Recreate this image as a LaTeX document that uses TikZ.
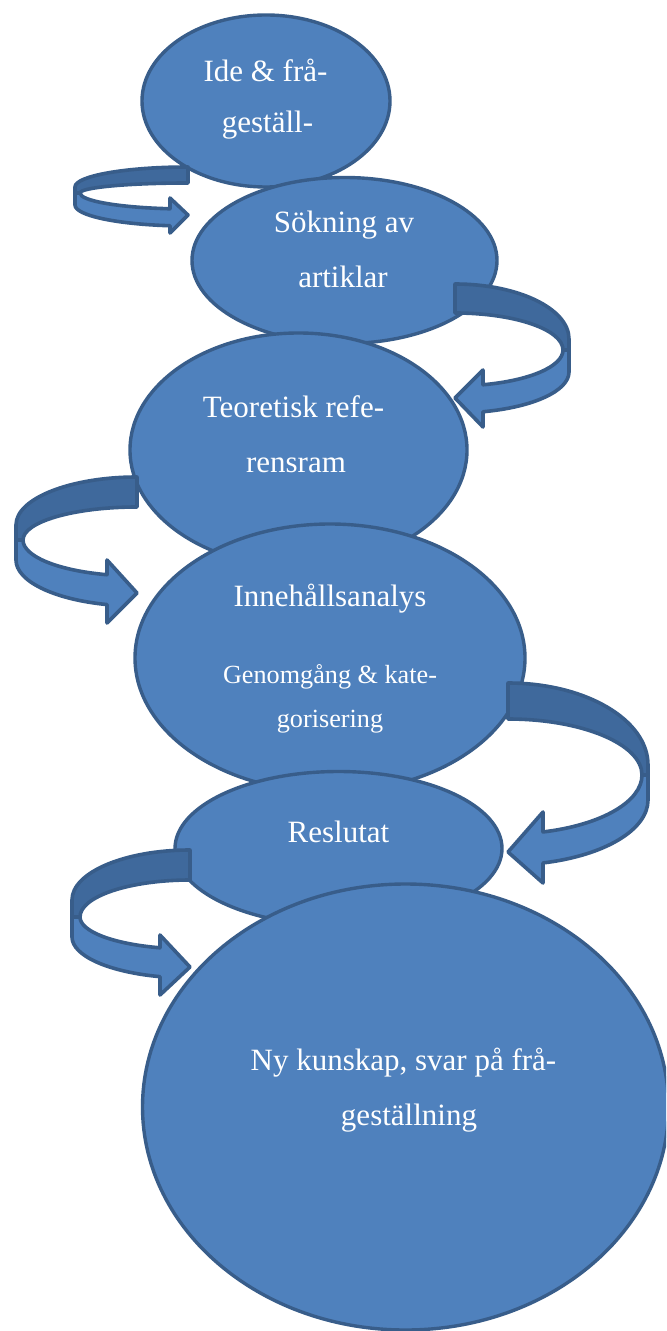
\documentclass[tikz,border=0pt]{standalone}
\usepackage{fontspec}
\setmainfont{Liberation Serif}
\usetikzlibrary{shapes.geometric}
\definecolor{bfill}{HTML}{4F81BD}
\definecolor{bline}{HTML}{385D8A}
\definecolor{bdark}{HTML}{3F699C}
\pgfkeys{/ca/.is family, /ca,
  A/.store in=\caA, Bt/.store in=\caBt, t/.store in=\caT, yi/.store in=\caYi,
  d/.store in=\caD, y2/.store in=\caYtwo, Bo/.store in=\caBo, Bi/.store in=\caBi,
  xb/.store in=\caXb, ub/.store in=\caUb, tip/.store in=\caTip, lb/.store in=\caLb}
\newcommand\curvedarrow[2]{%
  \pgfqkeys{/ca}{#2}%
  \begin{scope}[#1]
    \draw[backband] (0,0) arc[start angle=270,end angle=180,x radius=\caA,y radius=\caBt]
      -- (-\caA,\caYi) -- ({-(\caA-\caD)},\caYi)
      arc[start angle=180,end angle=270,x radius={\caA-\caD},y radius={\caYi-\caT}] -- cycle;
    \draw[frontband] (-\caA,\caYi) -- (-\caA,\caYtwo)
      arc[start angle=180,end angle={acos(\caXb/\caA)},x radius=\caA,y radius=\caBo]
      -- (\caXb,\caLb) -- (0,\caTip) -- (\caXb,\caUb)
      -- ({\caXb},{\caYi+\caBi*sin(acos(\caXb/(\caA-\caD)))})
      arc[start angle={acos(\caXb/(\caA-\caD))},end angle=180,x radius={\caA-\caD},y radius=\caBi]
      -- cycle;
  \end{scope}}
\tikzset{
  ell/.style={ellipse, draw=bline, fill=bfill, line width=1.7pt, inner sep=0pt},
  backband/.style={draw=bline, fill=bdark, line width=1.8pt, line join=round},
  frontband/.style={draw=bline, fill=bfill, line width=1.8pt, line join=round},
  lbl/.style={text=white, inner sep=0pt, anchor=base, font=\fontsize{15.5}{18}\selectfont},
  slbl/.style={text=white, inner sep=0pt, anchor=base, font=\fontsize{13.1}{16}\selectfont}
}
\begin{document}
\begin{tikzpicture}[x=0.5pt,y=-0.5pt]
\useasboundingbox (0,0) rectangle (666,1331);
\clip (0,0) rectangle (666,1331);
% ellipses (diameter in px times 0.5pt)
\node[ell, minimum width=124pt, minimum height=86pt] (e1) at (266,101) {};
\node[ell, minimum width=152.5pt, minimum height=83pt] (e2) at (344.5,260.5) {};
\node[ell, minimum width=168.5pt, minimum height=117pt] (e3) at (298.5,450) {};
\node[ell, minimum width=195pt, minimum height=134pt] (e4) at (330,658) {};
\node[ell, minimum width=163.5pt, minimum height=77pt] (e5) at (338.5,848.5) {};
\node[ell, minimum width=263pt, minimum height=223pt] (e6) at (405.5,1107) {};
% texts
\node[lbl] (t1a) at (265.5,82) {Ide \& frå-};
\node[lbl] (t1b) at (267.5,133) {geställ-};
\node[lbl] (t2a) at (344,233) {Sökning av};
\node[lbl] (t2b) at (343,288) {artiklar};
\node[lbl] (t3a) at (293.5,417) {Teoretisk refe-};
\node[lbl] (t3b) at (296,473) {rensram};
\node[lbl] (t4a) at (330,606) {Innehållsanalys};
\node[slbl] (t4b) at (330,683) {Genomgång \& kate-};
\node[slbl] (t4c) at (330,727) {gorisering};
\node[lbl] (t5a) at (338.5,842) {Reslutat};
\node[lbl] (t6a) at (403.5,1070) {Ny kunskap, svar på frå-};
\node[lbl] (t6b) at (409,1125) {geställning};
% curved arrows
\curvedarrow{shift={(188,167)}}{A=113,Bt=20,t=16,yi=26,d=5,y2=38,Bo=21,Bi=16,xb=-18,ub=31,tip=48,lb=66}
\curvedarrow{shift={(455,284)},xscale=-1}{A=114,Bt=55,t=29,yi=66,d=6,y2=88,Bo=41,Bi=36,xb=-28,ub=86,tip=114,lb=143}
\curvedarrow{shift={(137,477)}}{A=121,Bt=48,t=30,yi=63,d=7,y2=83,Bo=46,Bi=36,xb=-30,ub=83,tip=116,lb=146}
\curvedarrow{shift={(508,683)},xscale=-1}{A=140,Bt=82,t=36,yi=92,d=6,y2=117,Bo=65,Bi=59,xb=-35,ub=129,tip=169,lb=200}
\curvedarrow{shift={(190,850)}}{A=118,Bt=50,t=30,yi=67,d=8,y2=87,Bo=41,Bi=32,xb=-30,ub=85,tip=117,lb=145}
\end{tikzpicture}
\end{document}
